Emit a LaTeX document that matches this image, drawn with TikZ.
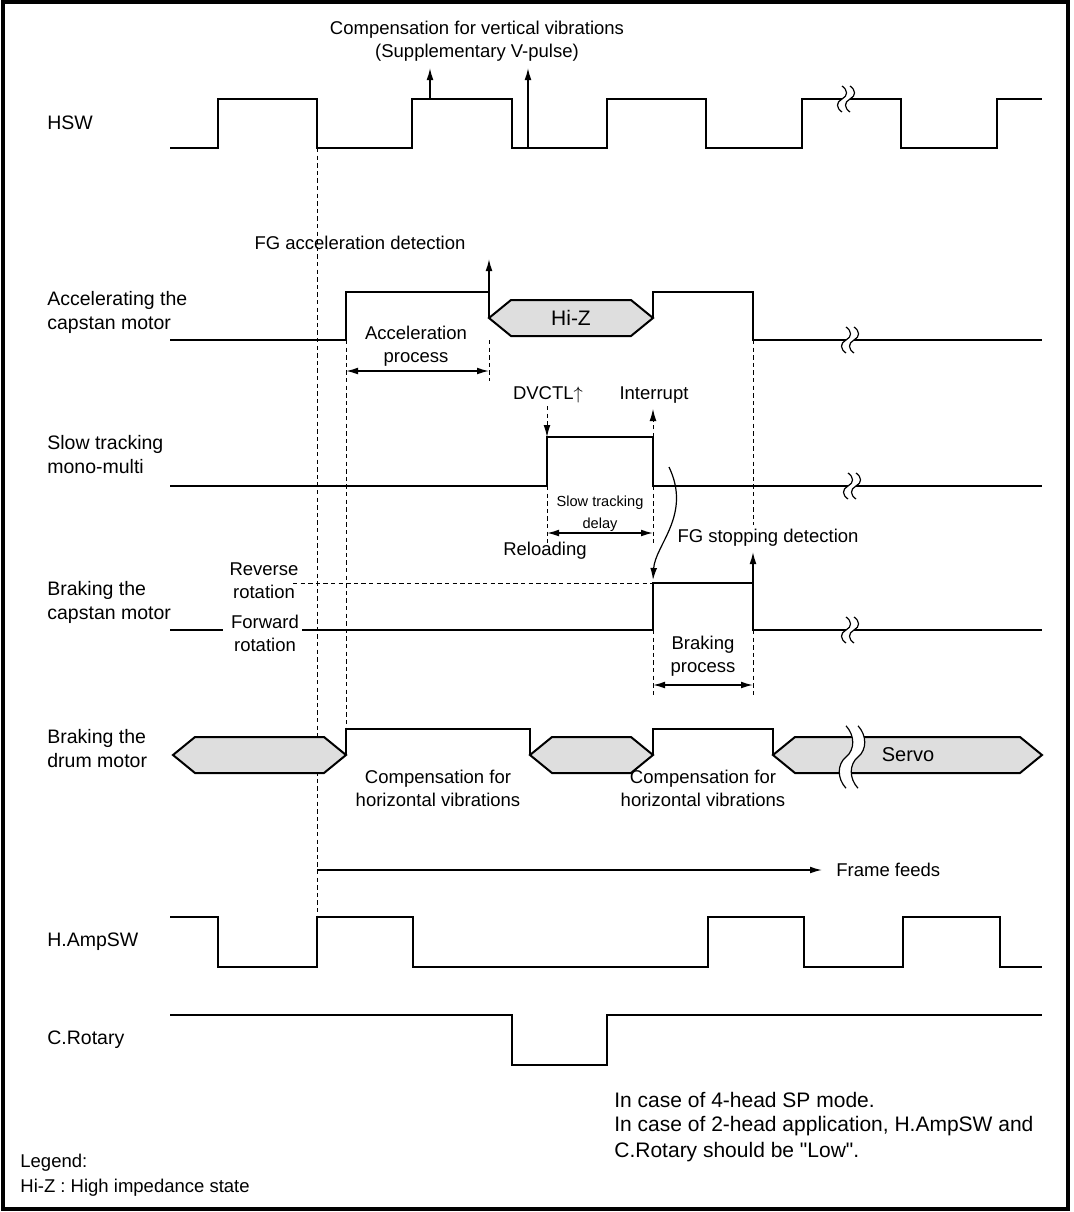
\documentclass[tikz,border=0pt]{standalone}
\usepackage{fontspec}
\setmainfont{Liberation Sans}
\usetikzlibrary{arrows.meta}
\definecolor{hizgray}{RGB}{222,222,222}

\begin{document}
\begin{tikzpicture}[x=0.5pt,y=-0.5pt,>={Latex[length=6pt,width=3.4pt]},
  sig/.style={line width=1pt,line join=miter},
  guide/.style={line width=0.45pt,dash pattern=on 2.2pt off 1.6pt},
  dim/.style={line width=0.7pt,<->},
  note/.style={line width=0.7pt,->},
  hexa/.style={sig,fill=hizgray},
  lbl/.style={anchor=west,align=left,inner sep=0pt,font=\fontsize{9.75}{12}\selectfont},
  ann/.style={align=center,inner sep=0pt,font=\fontsize{9.25}{11.5}\selectfont},
  tiny/.style={align=center,inner sep=0pt,font=\fontsize{7.3}{11}\selectfont},
  big/.style={anchor=west,inner sep=0pt,font=\fontsize{10.5}{12}\selectfont},
  brk/.pic={
    \fill[white] (0,-13) .. controls (6,-9) and (6,-3) .. (0,0) .. controls (-6,3) and (-6,9) .. (0,13)
      -- (8,13) .. controls (2,9) and (2,3) .. (8,0) .. controls (14,-3) and (14,-9) .. (8,-13) -- cycle;
    \draw[line width=0.6pt] (0,-13) .. controls (6,-9) and (6,-3) .. (0,0) .. controls (-6,3) and (-6,9) .. (0,13);
    \draw[line width=0.6pt] (8,-13) .. controls (14,-9) and (14,-3) .. (8,0) .. controls (2,3) and (2,9) .. (8,13);
  }]
\useasboundingbox (0,0) rectangle (1074,1212);
\draw[line width=2pt] (2.5,2) rectangle (1068,1209);

\node[lbl] (hsw) at (47,123) {HSW};
\node[lbl] (acc) at (47,312) {Accelerating the\\capstan motor};
\node[lbl] (slow) at (47,455) {Slow tracking\\mono-multi};
\node[lbl] (brc) at (47,602) {Braking the\\capstan motor};
\node[lbl] (brd) at (47,749) {Braking the\\drum motor};
\node[lbl] (amp) at (47,942) {H.AmpSW};
\node[lbl] (crot) at (47,1040) {C.Rotary};

\draw[guide] (317,148) -- (317,917);
\draw[guide] (346,340) -- (346,729);
\draw[guide] (489,340) -- (489,381);
\draw[guide] (547,486) -- (547,543);
\draw[guide] (653,486) -- (653,543);
\draw[guide] (753,340) -- (753,525);
\draw[guide] (653,630) -- (653,695);
\draw[guide] (753,630) -- (753,695);
\draw[guide] (293,583) -- (653,583);

\draw[sig] (170,148) -- (218,148) -- (218,99) -- (317,99) -- (317,148) -- (412,148) -- (412,99) -- (512,99) -- (512,148)
  -- (607,148) -- (607,99) -- (706,99) -- (706,148) -- (802,148) -- (802,99) -- (901,99) -- (901,148) -- (997,148) -- (997,99) -- (1042,99);
\pic at (842,99) {brk};
\node[ann] (vcomp) at (477,41) {Compensation for vertical vibrations\\(Supplementary V-pulse)};
\coordinate (v1) at (430,99);
\coordinate (v1t) at (430,68);
\coordinate (v2) at (528,148);
\coordinate (v2t) at (528,68);
\draw[note] (v1) -- (v1t);
\draw[note] (v2) -- (v2t);

\draw[sig] (170,340) -- (346,340) -- (346,292) -- (489,292) -- (489,318);
\draw[hexa] (489,318) -- (511,300) -- (631,300) -- (653,318) -- (631,336) -- (511,336) -- cycle;
\draw[sig] (653,318) -- (653,292) -- (753,292) -- (753,340) -- (1042,340);
\pic at (846,340) {brk};
\node[font=\fontsize{10.5}{12}\selectfont] (hiz) at (571,318) {Hi-Z};
\node[ann] (fgacc) at (360,243) {FG acceleration detection};
\coordinate (a1) at (489,292);
\coordinate (a1t) at (489,259);
\draw[note] (a1) -- (a1t);
\node[ann] (accproc) at (416,346) {Acceleration\\process};
\coordinate (ap1) at (346,371);
\coordinate (ap2) at (489,371);
\draw[dim] (ap1) -- (ap2);

\draw[sig] (170,486) -- (547,486) -- (547,437) -- (653,437) -- (653,486) -- (1042,486);
\pic at (848,486) {brk};
\node[ann] (dvctl) at (548,395) {DVCTL$\uparrow$};
\node[ann] (intr) at (654,395) {Interrupt};
\coordinate (d1) at (547,406);
\coordinate (d1t) at (547,437);
\coordinate (i1) at (653,437);
\coordinate (i1t) at (653,409);
\draw[guide,->] (d1) -- (d1t);
\draw[guide,->] (i1) -- (i1t);
\node[tiny] (stdelay) at (600,514) {Slow tracking\\delay};
\coordinate (sd1) at (547,533);
\coordinate (sd2) at (653,533);
\draw[dim] (sd1) -- (sd2);
\node[ann] (reload) at (545,551) {Reloading};
\coordinate (c1) at (669,467);
\coordinate (c1t) at (653,580);
\draw[line width=0.6pt,->] (c1) .. controls (692,515) and (655,545) .. (c1t);

\draw[sig] (170,630) -- (223,630);
\draw[sig] (302,630) -- (653,630) -- (653,583) -- (753,583) -- (753,630) -- (1042,630);
\pic at (846,630) {brk};
\node[ann] (rev) at (264,581) {Reverse\\rotation};
\node[ann] (fwd) at (265,633) {Forward\\rotation};
\node[ann] (fgstop) at (768,538) {FG stopping detection};
\coordinate (f1) at (753,630);
\coordinate (f1t) at (753,552);
\draw[note] (f1) -- (f1t);
\node[ann] (brkproc) at (703,656) {Braking\\process};
\coordinate (bp1) at (653,685);
\coordinate (bp2) at (753,685);
\draw[dim] (bp1) -- (bp2);

\draw[hexa] (173,755) -- (195,737) -- (324,737) -- (346,755) -- (324,773) -- (195,773) -- cycle;
\draw[sig] (346,755) -- (346,729) -- (530,729) -- (530,755);
\draw[hexa] (530,755) -- (552,737) -- (631,737) -- (653,755) -- (631,773) -- (552,773) -- cycle;
\draw[sig] (653,755) -- (653,729) -- (773,729) -- (773,755);
\draw[hexa] (773,755) -- (795,737) -- (1020,737) -- (1042,755) -- (1020,773) -- (795,773) -- cycle;
\pic[xscale=1.5,yscale=2.4] at (846,757) {brk};
\node[font=\fontsize{10}{12}\selectfont] (servo) at (908,755) {Servo};
\node[ann] (hcomp1) at (438,788) {Compensation for\\horizontal vibrations};
\node[ann] (hcomp2) at (703,788) {Compensation for\\horizontal vibrations};

\coordinate (ff1) at (317,870);
\coordinate (ff2) at (822,870);
\draw[note] (ff1) -- (ff2);
\node[ann,anchor=west] (feeds) at (836,870) {Frame feeds};

\draw[sig] (170,917) -- (218,917) -- (218,967) -- (317,967) -- (317,917) -- (413,917) -- (413,967) -- (708,967) -- (708,917)
  -- (804,917) -- (804,967) -- (903,967) -- (903,917) -- (1000,917) -- (1000,967) -- (1042,967);
\draw[sig] (170,1015) -- (512,1015) -- (512,1065) -- (607,1065) -- (607,1015) -- (1042,1015);

\node[big] (note1) at (614,1100) {In case of 4-head SP mode.};
\node[big] (note2) at (614,1126) {In case of 2-head application, H.AmpSW and};
\node[big] (note3) at (614,1152) {C.Rotary should be \textquotedbl Low\textquotedbl.};
\node[lbl,font=\fontsize{9.25}{11.5}\selectfont] (leg1) at (20,1163) {Legend:};
\node[lbl,font=\fontsize{9.25}{11.5}\selectfont] (leg2) at (20,1188) {Hi-Z : High impedance state};
\end{tikzpicture}
\end{document}
